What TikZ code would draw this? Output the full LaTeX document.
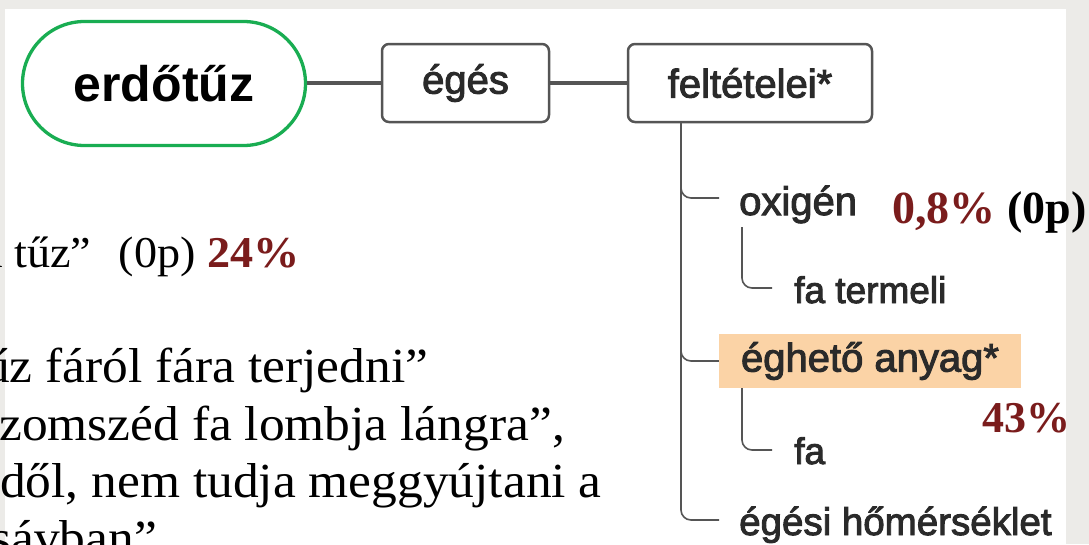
\documentclass[tikz,border=0pt]{standalone}
\usepackage{fontspec}
\setmainfont{Liberation Serif}
\newfontfamily\arialfont{Liberation Sans}
\newfontfamily\mapfont[FakeBold=2.5]{Liberation Sans}
\newfontfamily\palfont[FakeStretch=1.05]{Liberation Serif}
\definecolor{bggrey}{HTML}{ECEBE8}
\definecolor{rootgreen}{HTML}{19AD52}
\definecolor{linegrey}{HTML}{555555}
\definecolor{textgrey}{HTML}{2A2A2A}
\definecolor{peach}{HTML}{FBD3A6}
\definecolor{darkred}{HTML}{7A1C1C}
\tikzset{
  rootnode/.style={draw=rootgreen, line width=3.3pt, fill=white, rounded corners=62pt,
    minimum width=283pt, minimum height=124pt, inner sep=0pt,
    font=\arialfont\bfseries\fontsize{50}{60}\selectfont, text=black},
  boxnode/.style={draw=linegrey, line width=2.5pt, fill=white, rounded corners=7pt,
    minimum height=78pt, inner sep=0pt,
    font=\mapfont\fontsize{40}{48}\selectfont, text=textgrey},
  conn/.style={draw=linegrey, line width=4pt},
  branch/.style={draw=linegrey, line width=1.6pt, rounded corners=10pt},
  leveltwo/.style={anchor=base west, inner sep=0pt, font=\mapfont\fontsize{40}{48}\selectfont, text=textgrey},
  levelthree/.style={anchor=base west, inner sep=0pt, font=\mapfont\fontsize{37}{44}\selectfont, text=textgrey},
  bodytext/.style={anchor=base west, inner sep=0pt, font=\palfont\fontsize{49}{57}\selectfont, text=black},
  score/.style={anchor=base west, inner sep=0pt, font=\bfseries\fontsize{46}{54}\selectfont, text=black}
}
\begin{document}
\begin{tikzpicture}[x=1pt, y=-1pt]
\useasboundingbox (0,0) rectangle (1089,544);
\fill[bggrey] (0,0) rectangle (1089,544);
\fill[white] (5,9) rectangle (1066,544);

% mind map
\node[rootnode] (root) at (164,83.5) {erdőtűz};
\node[boxnode, minimum width=167pt] (eges) at (465.5,83) {\raisebox{-2pt}{égés}};
\node[boxnode, minimum width=244pt] (felt) at (750,83) {\raisebox{-2pt}{feltételei*}};
\draw[conn] (root.east |- eges.west) -- (eges.west);
\draw[conn] (eges.east) -- (felt.west);

\coordinate (t0) at ([xshift=-69pt]felt.south);
\coordinate (oxe) at (719,198);
\coordinate (eae) at (719,361);
\coordinate (hoe) at (719,520);
\draw[branch] (t0) |- (hoe);
\draw[branch] (t0) |- (oxe);
\draw[branch] (t0) |- (eae);

\node[leveltwo] (ox) at (739,215) {oxigén};
\node[fill=peach, minimum width=302pt, minimum height=54pt, inner sep=0pt,
      font=\mapfont\fontsize{40}{48}\selectfont, text=textgrey] (ea) at (870,361) {éghető anyag*};
\node[leveltwo, font=\mapfont\fontsize{38.5}{46}\selectfont] (ho) at (739,535) {égési hőmérséklet};

\coordinate (s1) at (742,227);
\coordinate (s1e) at (772,288);
\coordinate (s2) at (742,388);
\coordinate (s2e) at (772,450);
\draw[branch] (s1) |- (s1e);
\draw[branch] (s2) |- (s2e);
\node[levelthree] (fat) at (794,303) {fa termeli};
\node[levelthree] (fa) at (794,464) {fa};

% scores on the right
\node[score] (p1) at (892,223) {\textcolor{darkred}{0,8\%} (0p)};
\node[score, font=\bfseries\fontsize{44}{52}\selectfont, text=darkred] (p2) at (982,432) {43\%};

% body text on the left
\node[bodytext] (l1) at (-18,267) {\fontsize{44}{52}\selectfont a tűz”\kern16pt\ (0p) \textcolor{darkred}{\bfseries 24\%}};
\node[bodytext] (l2) at (-16,382) {űz fáról fára terjedni”};
\node[bodytext] (l3) at (-1,440) {zomszéd fa lombja lángra”,};
\node[bodytext] (l4) at (0,497) {dől, nem tudja meggyújtani a};
\node[bodytext] (l5) at (-9,554) {sávban”};
\end{tikzpicture}
\end{document}
